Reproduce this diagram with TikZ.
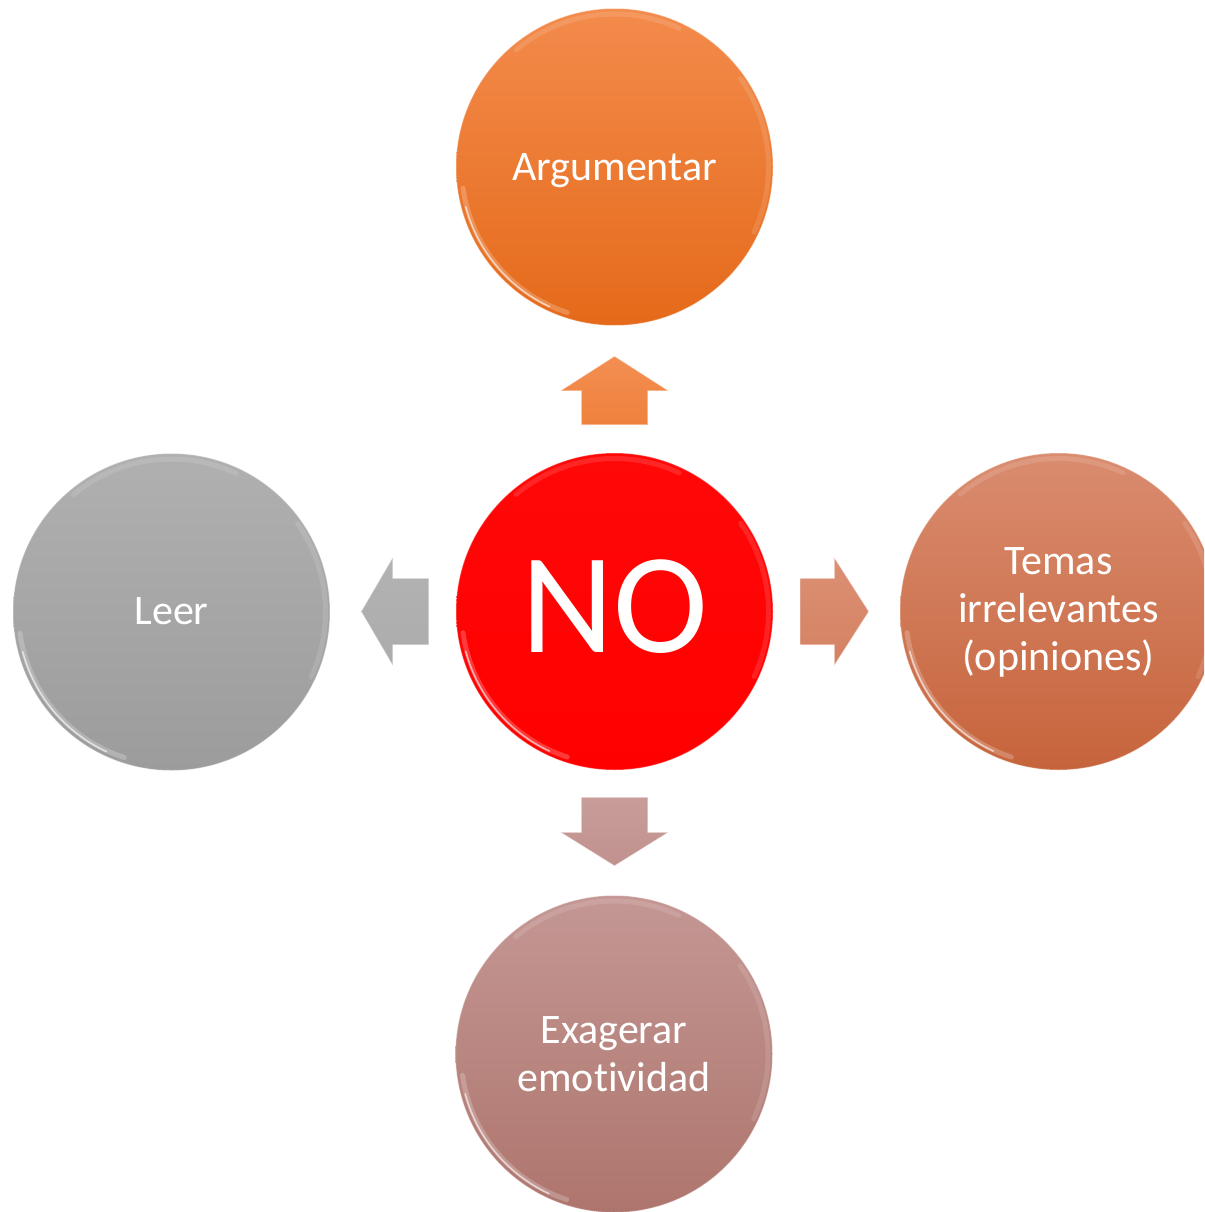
\documentclass[tikz,border=0pt]{standalone}
\usepackage{fontspec}
\setmainfont{Carlito}[Ligatures={NoCommon}]
\usetikzlibrary{calc}
\definecolor{orT}{HTML}{F38B4C}
\definecolor{orB}{HTML}{E56A1A}
\definecolor{rdT}{HTML}{FF0808}
\definecolor{rdB}{HTML}{FF0000}
\definecolor{grT}{HTML}{B0B0B0}
\definecolor{grB}{HTML}{9C9C9C}
\definecolor{cpT}{HTML}{DA8C6F}
\definecolor{cpB}{HTML}{C6643C}
\definecolor{roT}{HTML}{C49794}
\definecolor{roB}{HTML}{AE756D}
\begin{document}
\begin{tikzpicture}[x=1pt,y=1pt,
  bubble/.style={circle, minimum size=317pt, inner sep=0pt, draw=white, draw opacity=0.35, line width=1pt,
                 text=white, font=\fontsize{42}{48}\selectfont, align=center},
  glow/.style={white, line width=5pt, line cap=round, opacity=0.22},
  gloss/.style={white, line width=1.6pt, line cap=round, opacity=0.6},
  softgloss/.style={white, line width=5pt, line cap=round, opacity=0.12},
  blockarr/.style={draw opacity=0.45, line width=0.8pt, line join=miter}]
\useasboundingbox (0,0) rectangle (1204,-1212);
\begin{scope}
\clip (0,0) rectangle (1204,-1212);
% circles
\node[bubble, top color=orT, bottom color=orB, text height=26pt, text depth=0pt] (arg) at (614.5,-167) {Argumentar};
\node[bubble, top color=rdT, bottom color=rdB, font=\fontsize{143}{150}\selectfont, text height=81pt, text depth=0pt] (no) at (614.5,-611.5) {NO};
\node[bubble, top color=grT, bottom color=grB, text height=24pt, text depth=0pt] (leer) at (171.5,-612) {Leer};
\node[bubble, top color=cpT, bottom color=cpB, text height=117pt, text depth=0pt] (temas) at (1058.5,-611.5) {Temas\\irrelevantes\\(opiniones)};
\node[bubble, top color=roT, bottom color=roB, text height=74pt, text depth=0pt] (exa) at (614,-1054) {Exagerar\\emotividad};
% gloss highlights
\foreach \n in {arg,no,leer,temas,exa}{
  \draw[glow] ($(\n.center)+(188:153)$) arc[start angle=188, end angle=252, radius=153];
  \draw[gloss] ($(\n.center)+(195:154)$) arc[start angle=195, end angle=245, radius=154];
  \draw[softgloss] ($(\n.center)+(65:153)$) arc[start angle=65, end angle=130, radius=153];
  \draw[softgloss] ($(\n.center)+(-25:154)$) arc[start angle=-25, end angle=35, radius=154];
}
\end{scope}
% block arrows
\coordinate (up0) at ($(no.north)+(0,28)$);
\coordinate (rt0) at ($(no.east)+(27,0)$);
\coordinate (lf0) at ($(no.west)+(-27,0)$);
\coordinate (dn0) at ($(no.south)+(0,-27)$);
\draw[blockarr, draw=orT!60!white, top color=orT!97!white, bottom color=orT!70!orB]
  (up0) ++(-33,0) -- ++(0,34) -- ++(-20,0) -- ++(53,34) -- ++(53,-34) -- ++(-20,0) -- ++(0,-34) -- cycle;
\draw[blockarr, draw=cpT!60!white, top color=cpT!97!white, bottom color=cpT!75!cpB]
  (rt0) ++(0,33) -- ++(34,0) -- ++(0,20) -- ++(34,-53) -- ++(-34,-53) -- ++(0,20) -- ++(-34,0) -- cycle;
\draw[blockarr, draw=grT!60!white, top color=grT!97!white, bottom color=grT!80!grB]
  (lf0) ++(0,33) -- ++(-36,0) -- ++(0,20) -- ++(-31,-53) -- ++(31,-53) -- ++(0,20) -- ++(36,0) -- cycle;
\draw[blockarr, draw=roT!60!white, top color=roT!95!white, bottom color=roT!85!roB]
  (dn0) ++(-33,0) -- ++(0,-35) -- ++(-20,0) -- ++(53,-33) -- ++(53,33) -- ++(-20,0) -- ++(0,35) -- cycle;
\end{tikzpicture}
\end{document}
